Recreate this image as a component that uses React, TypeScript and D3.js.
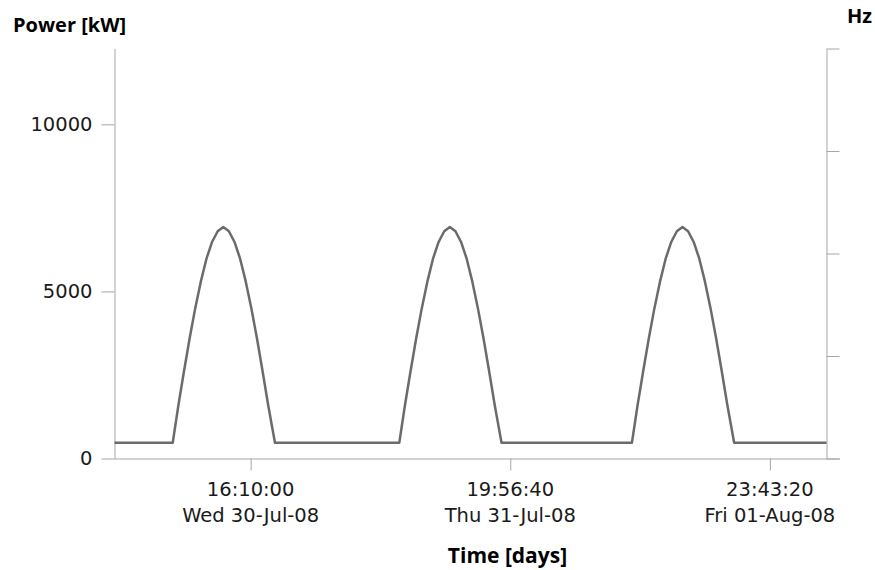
import React, { useEffect, useRef } from 'react';
import * as d3 from 'd3';

// hours counted from Wed 30-Jul-08 00:00 (UTC)
const dayZero = Date.UTC(2008, 6, 30);

const hours = [
  1.6,
  7.83, 8.44, 9.04, 9.64, 10.24, 10.84, 11.44, 12.04, 12.64, 13.24, 13.84, 14.44, 15.04, 15.64, 16.24, 16.84, 17.44, 18.04, 18.77,
  32.07, 32.68, 33.28, 33.88, 34.48, 35.08, 35.68, 36.28, 36.88, 37.48, 38.08, 38.68, 39.28, 39.88, 40.48, 41.08, 41.68, 42.28, 43.01,
  56.96, 57.57, 58.17, 58.77, 59.37, 59.97, 60.57, 61.17, 61.77, 62.37, 62.97, 63.57, 64.17, 64.77, 65.37, 65.97, 66.57, 67.17, 67.9,
  77.78,
];

const powerKW = [
  470,
  470, 1600, 2620, 3600, 4500, 5300, 5980, 6480, 6800, 6930, 6800, 6480, 5980, 5300, 4500, 3600, 2620, 1600, 470,
  470, 1600, 2620, 3600, 4500, 5300, 5980, 6480, 6800, 6930, 6800, 6480, 5980, 5300, 4500, 3600, 2620, 1600, 470,
  470, 1600, 2620, 3600, 4500, 5300, 5980, 6480, 6800, 6930, 6800, 6480, 5980, 5300, 4500, 3600, 2620, 1600, 470,
  470,
];

const timeTicks = [
  new Date(Date.UTC(2008, 6, 30, 16, 10, 0)),
  new Date(Date.UTC(2008, 6, 31, 19, 56, 40)),
  new Date(Date.UTC(2008, 7, 1, 23, 43, 20)),
];
const powerTicks = [0, 5000, 10000];
const hzTicks = [0, 1, 2, 3, 4];

const TICK_FONT = '"DejaVu Sans", sans-serif';
const TITLE_FONT = '"Open Sans", sans-serif';

export default function App() {
  const ref = useRef<SVGSVGElement>(null);

  useEffect(() => {
    const svg = d3.select(ref.current);
    svg.selectAll('*').remove();

    const left = 114.5;
    const right = 826.5;
    const top = 48.5;
    const bottom = 458.5;

    const data = hours.map((h, i) => ({
      t: new Date(dayZero + h * 3600 * 1000),
      v: powerKW[i],
    }));

    const x = d3.scaleUtc()
      .domain([data[0].t, data[data.length - 1].t])
      .range([left, right]);

    const y = d3.scaleLinear()
      .domain([0, 12270])
      .range([bottom, top]);

    const yHz = d3.scaleLinear()
      .domain([0, 4])
      .range([bottom, top]);

    const axisColor = '#a6a6a6';
    const textColor = '#1a1a1a';

    // x axis
    const xAxis = svg.append('g')
      .attr('transform', `translate(0, ${bottom})`)
      .call(d3.axisBottom(x).tickValues(timeTicks).tickSize(12).tickSizeOuter(0).tickFormat(() => ''));
    xAxis.select('.domain').attr('d', `M${left},0.5H840`);
    xAxis.selectAll('line, path').attr('stroke', axisColor);

    const fmtTime = d3.utcFormat('%H:%M:%S');
    const fmtDay = d3.utcFormat('%a %d-%b-%y');
    const labels = svg.append('g')
      .attr('font-family', TICK_FONT)
      .attr('font-size', 19.5)
      .attr('fill', textColor)
      .attr('text-anchor', 'middle');
    timeTicks.forEach(t => {
      labels.append('text').attr('x', x(t)).attr('y', 496).text(fmtTime(t));
      labels.append('text').attr('x', x(t)).attr('y', 521.5).text(fmtDay(t));
    });

    // left axis
    const yAxis = svg.append('g')
      .attr('transform', `translate(${left}, 0)`)
      .call(d3.axisLeft(y).tickValues(powerTicks).tickSize(13).tickSizeOuter(0).tickPadding(9).tickFormat(d3.format('d')));
    yAxis.selectAll('line, path').attr('stroke', axisColor);
    yAxis.selectAll('text')
      .attr('font-family', TICK_FONT).attr('font-size', 19.5).attr('fill', textColor);

    // right axis (Hz), no labels
    const hzAxis = svg.append('g')
      .attr('transform', `translate(${right}, 0)`)
      .call(d3.axisRight(yHz).tickValues(hzTicks).tickSize(13).tickSizeOuter(0).tickFormat(() => ''));
    hzAxis.selectAll('line, path').attr('stroke', axisColor);

    // power line
    const line = d3.line<{ t: Date; v: number }>()
      .x(d => x(d.t))
      .y(d => y(d.v));

    svg.append('path')
      .datum(data)
      .attr('fill', 'none')
      .attr('stroke', '#6b6b6b')
      .attr('stroke-width', 2.5)
      .attr('stroke-linejoin', 'round')
      .attr('d', line);

    // titles
    const titles = svg.append('g')
      .attr('font-family', TITLE_FONT)
      .attr('font-weight', 'bold')
      .attr('fill', '#000');
    titles.append('text')
      .attr('x', 13).attr('y', 32).attr('font-size', 20)
      .text('Power [kW]');
    titles.append('text')
      .attr('x', 847).attr('y', 23).attr('font-size', 20)
      .text('Hz');
    titles.append('text')
      .attr('x', 507.5).attr('y', 563).attr('font-size', 21)
      .attr('text-anchor', 'middle')
      .text('Time [days]');
  }, []);

  return (
    <svg ref={ref} width={875} height={570} style={{ position: 'absolute', left: 0, top: 0, background: '#fff' }} />
  );
}
